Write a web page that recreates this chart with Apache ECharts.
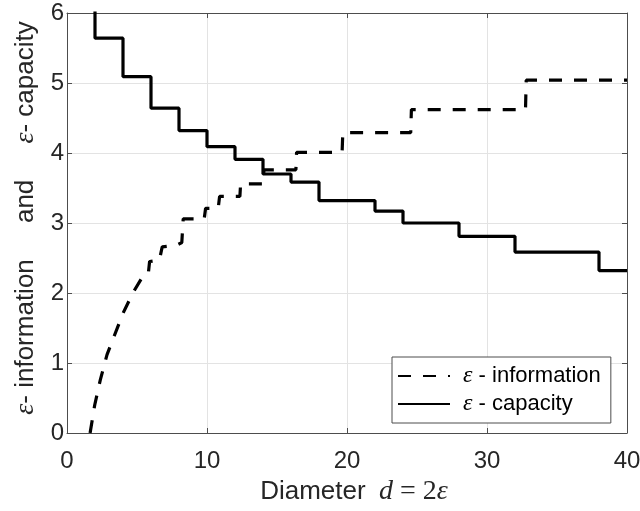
<!DOCTYPE html>
<html><head><meta charset="utf-8">
<script src="https://cdn.jsdelivr.net/npm/echarts@6/dist/echarts.min.js"></script>
<style>html,body{margin:0;padding:0;background:#fff}#c{width:640px;height:511px}</style>
</head><body><div id="c"></div>
<script>
// ε-capacity: step positions (d) and levels between them
const capStepD = [2,4,6,8,10,12,14,16,18,22,24,28,32,38,40];
const capLevels = [5.64,5.09,4.64,4.32,4.09,3.91,3.70,3.585,3.32,3.17,3.00,2.81,2.585,2.32];
const capStart = 6.64;
// ε-information: read points
const infoD = [1.65,1.98,2.38,2.86,3.4,4.0,4.7,5.3,5.8,5.9,6.6,6.8,7.8,8.2,8.3,9.8,9.9,10.8,10.9,12.35,12.4,14.0,14.07,16.35,16.4,19.65,19.7,24.55,24.6,32.75,32.8,40];
const infoVal = [0,0.4,0.76,1.12,1.4,1.71,2.0,2.2,2.26,2.45,2.47,2.66,2.68,2.72,3.06,3.06,3.21,3.21,3.38,3.38,3.56,3.56,3.76,3.76,4.01,4.01,4.29,4.29,4.62,4.62,5.04,5.04];
const xTicks = [0,10,20,30,40];
const yTicks = [0,1,2,3,4,5,6];

const capData = [[capStepD[0], capStart]];
for (let i = 0; i < capLevels.length; i++) {
  capData.push([capStepD[i], capLevels[i]]);
  capData.push([capStepD[i+1], capLevels[i]]);
}
const infoData = infoD.map((d, i) => [d, infoVal[i]]);

const TXT = '#262626', AX = '#4d4d4d', GRID = '#e3e3e3';
const SANS = 'Liberation Sans, Arial, Helvetica, sans-serif';
const SERIF = 'Liberation Serif, DejaVu Serif, serif';
const mathRich = {
  m: {fontFamily: SERIF, fontStyle: 'italic', fontSize: 28, color: TXT},
  u: {fontFamily: SERIF, fontSize: 28, color: TXT},
  t: {fontFamily: SANS, fontSize: 26, color: TXT}
};
const baseX = {type:'value', min:xTicks[0], max:xTicks[xTicks.length-1], interval:10};
const baseY = {type:'value', min:yTicks[0], max:yTicks[yTicks.length-1], interval:1};

const chart = echarts.init(document.getElementById('c'));
chart.setOption({
  animation:false,
  backgroundColor:'#fff',
  grid:{left:67, right:13, top:13, bottom:78, containLabel:false, outerBoundsMode:'none'},
  xAxis:[
    Object.assign({}, baseX, {
      position:'bottom',
      name:'{t|Diameter}    {m|d}{u| = 2}{m|ε}',
      nameLocation:'middle', nameGap:43,
      nameTextStyle:{rich:mathRich, padding:[0,0,0,14]},
      axisLine:{onZero:false, lineStyle:{color:AX, width:1}},
      axisTick:{inside:true, length:5, lineStyle:{color:AX}},
      axisLabel:{color:TXT, fontFamily:SANS, fontSize:24, margin:16},
      splitLine:{show:true, lineStyle:{color:GRID, width:1}}
    }),
    Object.assign({}, baseX, {
      position:'top',
      axisLine:{onZero:false, lineStyle:{color:AX, width:1}},
      axisTick:{inside:true, length:5, lineStyle:{color:AX}},
      axisLabel:{show:false}, splitLine:{show:false}
    })
  ],
  yAxis:[
    Object.assign({}, baseY, {
      position:'left',
      name:'{m|ε}{t|- information     and     }{m|ε}{t|- capacity}',
      nameLocation:'middle', nameGap:27,
      nameTextStyle:{rich:mathRich, padding:[0,0,0,10]},
      axisLine:{show:true, onZero:false, lineStyle:{color:AX, width:1}},
      axisTick:{show:true, inside:true, length:5, lineStyle:{color:AX}},
      axisLabel:{color:TXT, fontFamily:SANS, fontSize:24, margin:3},
      splitLine:{show:true, lineStyle:{color:GRID, width:1}}
    }),
    Object.assign({}, baseY, {
      position:'right',
      axisLine:{show:true, onZero:false, lineStyle:{color:AX, width:1}},
      axisTick:{show:true, inside:true, length:5, lineStyle:{color:AX}},
      axisLabel:{show:false}, splitLine:{show:false}
    })
  ],
  legend:{
    orient:'vertical', left:392, top:357,
    backgroundColor:'#fff', borderColor:AX, borderWidth:1, borderRadius:0,
    padding:[7,10,7,5], itemGap:4, itemWidth:52, itemHeight:14,
    itemStyle:{color:'rgba(0,0,0,0)', borderWidth:0, opacity:0},
    textStyle:{color:'#000', fontFamily:SANS, fontSize:22, padding:[0,0,0,8],
      rich:{
        m:{fontFamily:SERIF, fontStyle:'italic', fontSize:24, color:'#000'},
        t:{fontFamily:SANS, fontSize:22, color:'#000'}
      }},
    formatter: n => n === 'info' ? '{m|ε}{t| - information}' : '{m|ε}{t| - capacity}',
    data:['info','cap']
  },
  series:[
    {name:'info', type:'line', data:infoData, showSymbol:false, symbol:'none',
     lineStyle:{color:'#000', width:3.2, type:[13,12], cap:'butt'}, itemStyle:{color:'#000'}},
    {name:'cap', type:'line', data:capData, showSymbol:false, symbol:'none',
     lineStyle:{color:'#000', width:3.2, type:'solid'}, itemStyle:{color:'#000'}}
  ]
});
</script></body></html>
